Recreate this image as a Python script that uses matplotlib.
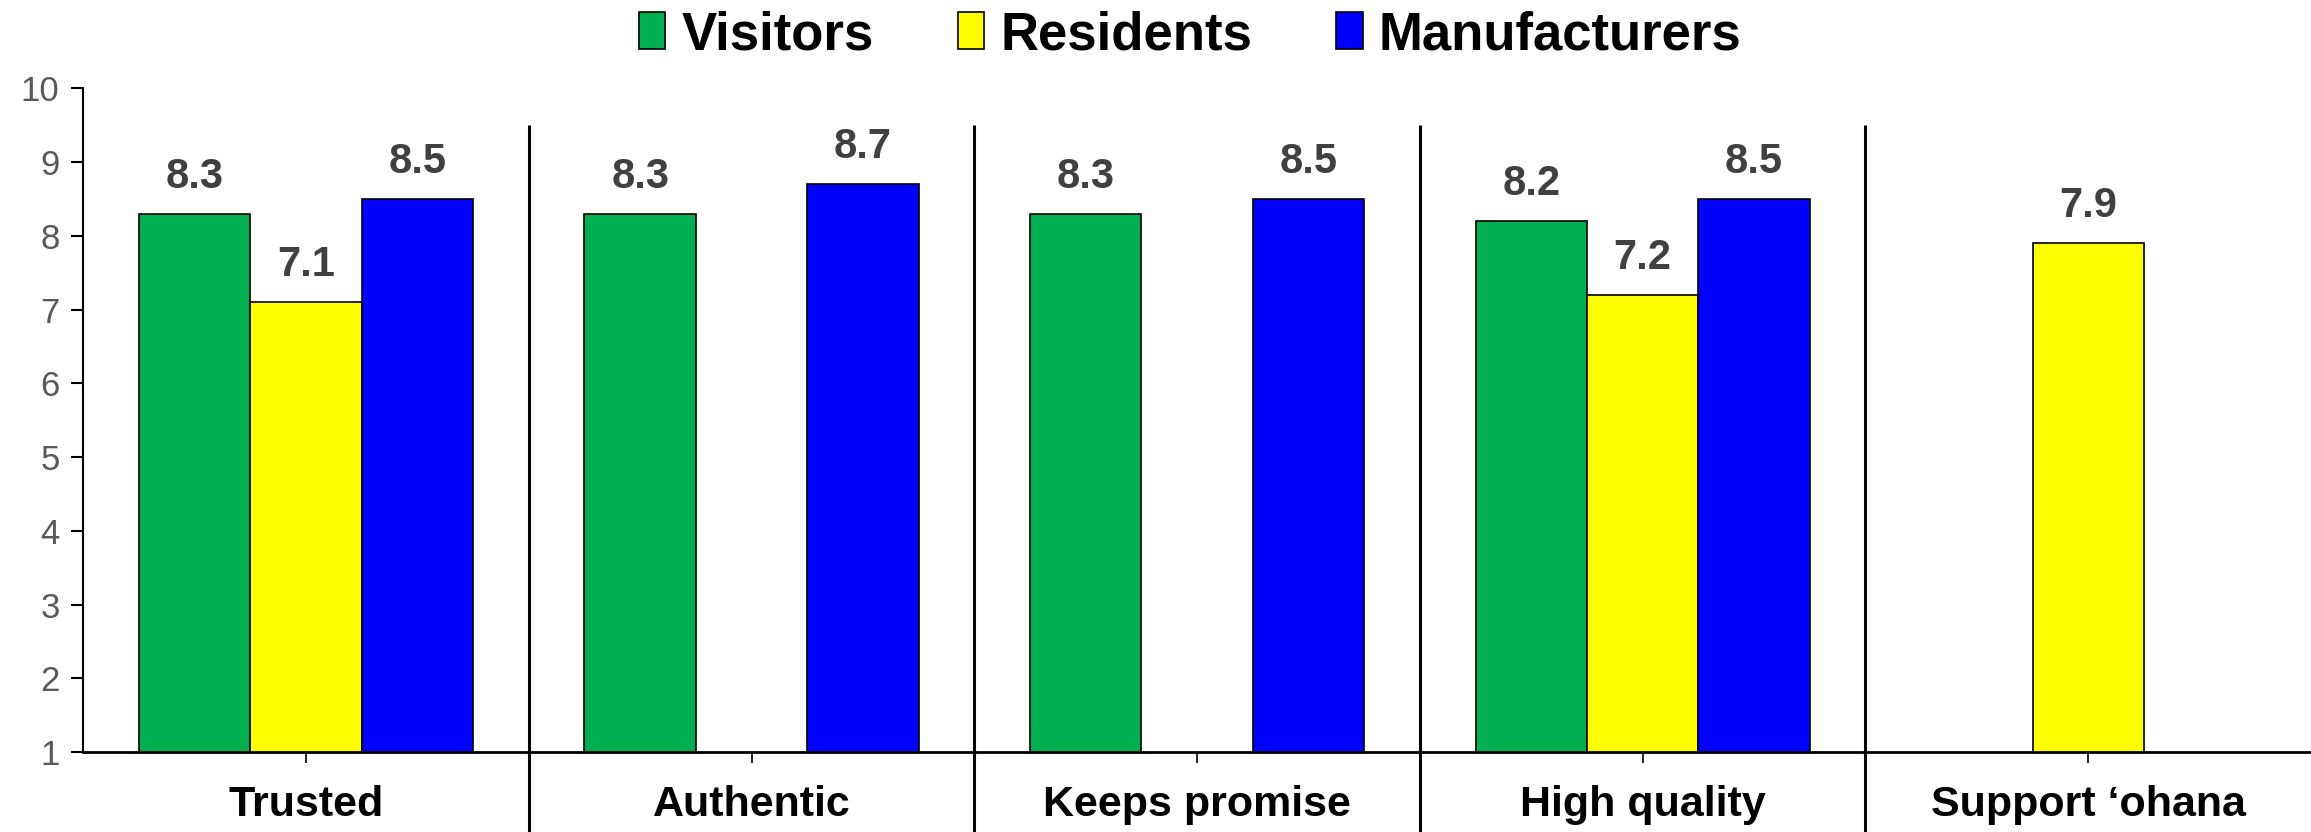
import matplotlib
matplotlib.use("Agg")
import matplotlib.pyplot as plt
import numpy as np

plt.rcParams['font.family'] = ['Liberation Sans', 'DejaVu Sans']

categories = ["Trusted", "Authentic", "Keeps promise", "High quality", "Support \u2018ohana"]
series_names = ["Visitors", "Residents", "Manufacturers"]
visitors = [8.3, 8.3, 8.3, 8.2, np.nan]
residents = [7.1, np.nan, np.nan, 7.2, 7.9]
manufacturers = [8.5, 8.7, 8.5, 8.5, np.nan]
colors = ["#00B050", "#FFFF00", "#0000FF"]
yticks = [1, 2, 3, 4, 5, 6, 7, 8, 9, 10]

fig = plt.figure(figsize=(23.11, 8.32), dpi=100)
ax = fig.add_axes([0.036, 0.096, 0.964, 0.798])

x = np.arange(len(categories))
width = 0.25
offsets = [-width, 0, width]
handles = []
for vals, off, col, name in zip([visitors, residents, manufacturers], offsets, colors, series_names):
    v = np.array(vals, dtype=float)
    bars = ax.bar(x + off, v, width, color=col, edgecolor="black", linewidth=1.2, label=name)
    handles.append(bars)
    for xi, vi in zip(x + off, v):
        if not np.isnan(vi):
            ax.annotate(f"{vi:.1f}", (xi, vi), xytext=(0, 12), textcoords="offset points",
                        ha="center", va="bottom", fontsize=30, fontweight="bold", color="#404040")

ax.set_ylim(1, 10)
ax.set_xlim(-0.5, len(categories) - 0.5)
ax.set_yticks(yticks)
ax.set_yticklabels([str(t) for t in yticks], fontsize=25, color="#595959")
ax.set_xticks(x)
ax.set_xticklabels(categories, fontsize=31, fontweight="bold", color="black")
ax.tick_params(axis="x", length=8, width=1.2, pad=16)
ax.tick_params(axis="y", length=9, width=1.5, pad=8)
for s in ["top", "right"]:
    ax.spines[s].set_visible(False)
ax.spines["left"].set_linewidth(1.5)
ax.spines["bottom"].set_linewidth(2)

# group separators
ax.vlines(x[:-1] + 0.5, -0.2, 9.5, colors="black", linewidth=2.2, clip_on=False)

leg = fig.legend(handles=handles, labels=series_names, loc="upper center",
                 bbox_to_anchor=(0.515, 1.045), ncol=3, frameon=False,
                 prop={'size': 38, 'weight': 'bold'}, handlelength=0.5, handleheight=0.7,
                 handletextpad=0.3, columnspacing=1.6)

fig.savefig("out.png", dpi=100)
